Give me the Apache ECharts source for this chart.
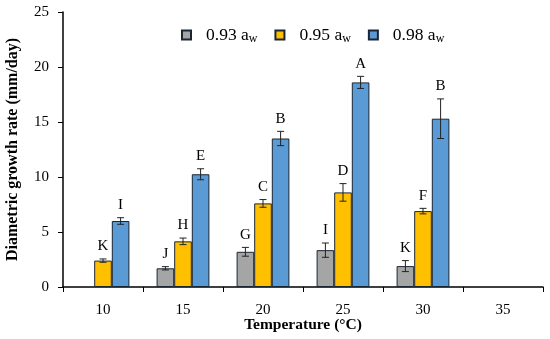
<!DOCTYPE html>
<html><head><meta charset="utf-8">
<script src="https://cdn.jsdelivr.net/npm/echarts@6/dist/echarts.min.js"></script>
<style>html,body{margin:0;padding:0;background:#fff}#c{width:550px;height:339px}</style>
</head><body><div id="c"></div>
<script>
const categories = ['10','15','20','25','30','35'];
const seriesNames = ['0.93', '0.95', '0.98'];
const gray = [null, 1.7, 3.2, 3.35, 1.9, null];
const orange = [2.4, 4.15, 7.6, 8.6, 6.9, null];
const blue = [6.0, 10.25, 13.5, 18.6, 15.3, null];
const grayErr = [null, 0.15, 0.4, 0.65, 0.5, null];
const orangeErr = [0.15, 0.3, 0.35, 0.8, 0.25, null];
const blueErr = [0.3, 0.5, 0.65, 0.55, 1.8, null];
const grayLetters = ['', 'J', 'G', 'I', 'K', ''];
const orangeLetters = ['K', 'H', 'C', 'D', 'F', ''];
const blueLetters = ['I', 'E', 'B', 'A', 'B', ''];
const yTicks = [0, 5, 10, 15, 20, 25];

const FONT = '"Liberation Serif", "DejaVu Serif", serif';
const colors = ['#A5A5A5', '#FFC000', '#5B9BD5'];
const values = [gray, orange, blue];
const errs = [grayErr, orangeErr, blueErr];
const letters = [grayLetters, orangeLetters, blueLetters];
const GAP = 0.34;
const slot = (1 - GAP) / 3;

function errSeries(k) {
  const data = categories.map((c, i) => [i, values[k][i], errs[k][i], letters[k][i]]);
  return {
    type: 'custom', z: 10, silent: true,
    data: data.filter(d => d[1] != null),
    renderItem: function (params, api) {
      const i = api.value(0), v = api.value(1), e = api.value(2);
      const band = api.size([1, 0])[0];
      const off = (k - 1) * slot * band;
      const p = api.coord([i, v]);
      const x = p[0] + off;
      const top = api.coord([i, v + e])[1];
      const bot = api.coord([i, v - e])[1];
      const hw = 3.5;
      const st = { stroke: '#222', lineWidth: 1 };
      const d = data.find(dd => dd[0] === i);
      return {
        type: 'group', children: [
          { type: 'line', shape: { x1: x, y1: top, x2: x, y2: bot }, style: st },
          { type: 'line', shape: { x1: x - hw, y1: top, x2: x + hw, y2: top }, style: st },
          { type: 'line', shape: { x1: x - hw, y1: bot, x2: x + hw, y2: bot }, style: st },
          { type: 'text', style: { text: d ? d[3] : '', x: x, y: top - 5, align: 'center', verticalAlign: 'bottom', font: '15px ' + FONT, fill: '#000' } }
        ]
      };
    }
  };
}

const chart = echarts.init(document.getElementById('c'));
chart.setOption({
  animation: false,
  grid: { left: 63, right: 7, top: 12, bottom: 52, containLabel: false, outerBoundsMode: 'none' },
  legend: {
    top: 21, left: 176, itemGap: 17, itemWidth: 9, itemHeight: 9, icon: 'rect',
    data: seriesNames,
    formatter: n => '{a|' + n + ' a}{s|w}',
    textStyle: {
      rich: {
        a: { fontFamily: FONT, fontSize: 17.5, color: '#000', padding: [0, 0, 0, 10] },
        s: { fontFamily: FONT, fontSize: 12, color: '#000', verticalAlign: 'bottom', padding: [7, 0, 0, 0] }
      }
    }
  },
  xAxis: {
    type: 'category', data: categories,
    name: 'Temperature (°C)', nameLocation: 'middle', nameGap: 30, nameMoveOverlap: false,
    nameTextStyle: { fontFamily: FONT, fontWeight: 'bold', fontSize: 15.5, color: '#000' },
    axisLine: { lineStyle: { color: '#000', width: 1.5 } },
    axisTick: { show: true, length: 5, lineStyle: { color: '#000' } },
    axisLabel: { fontFamily: FONT, fontSize: 15, color: '#000', margin: 16 }
  },
  yAxis: {
    type: 'value', min: 0, max: 25, interval: 5,
    name: 'Diametric growth rate (mm/day)', nameLocation: 'middle', nameGap: 42, nameMoveOverlap: false,
    nameTextStyle: { fontFamily: FONT, fontWeight: 'bold', fontSize: 16, color: '#000' },
    axisLine: { show: true, lineStyle: { color: '#000', width: 1.5 } },
    axisTick: { show: true, length: 5, lineStyle: { color: '#000' } },
    splitLine: { show: false },
    axisLabel: { fontFamily: FONT, fontSize: 15, color: '#000', margin: 14, formatter: v => yTicks.includes(v) ? String(v) : '' }
  },
  series: [
    ...seriesNames.map((n, k) => ({
      name: n, type: 'bar', data: values[k], barGap: '0%', barCategoryGap: (GAP * 100) + '%',
      itemStyle: { color: colors[k], borderColor: '#1a2633', borderWidth: 1 }
    })),
    errSeries(0), errSeries(1), errSeries(2)
  ]
});
</script></body></html>
